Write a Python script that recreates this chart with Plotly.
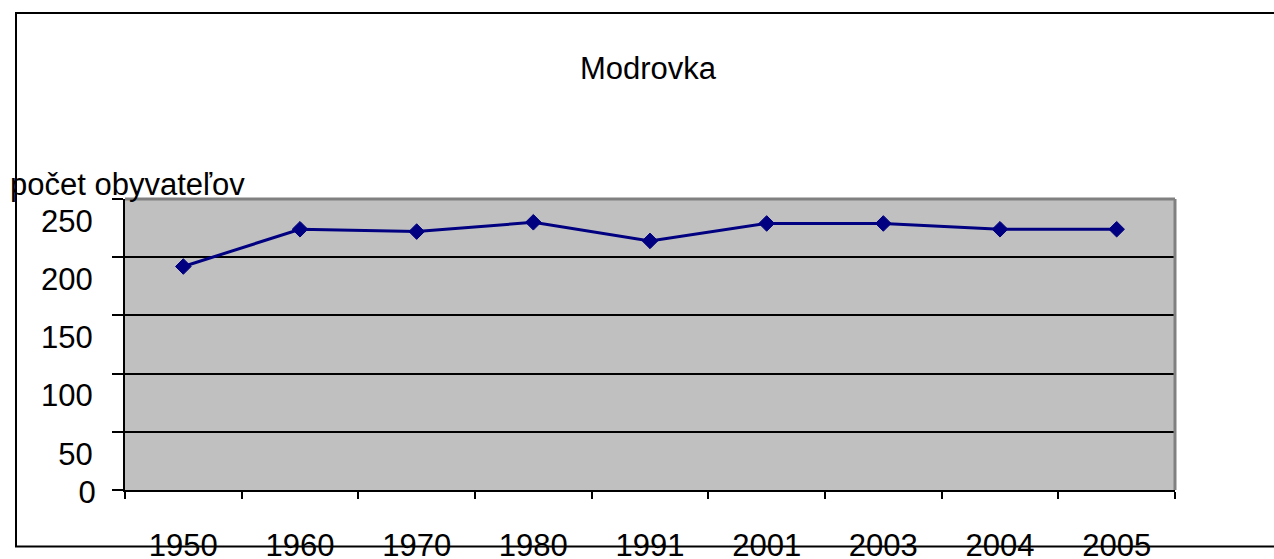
import plotly.graph_objects as go

years = ["1950", "1960", "1970", "1980", "1991", "2001", "2003", "2004", "2005"]
population = [192, 224, 222, 230, 214, 229, 229, 224, 224]
y_ticks = [0, 50, 100, 150, 200, 250]
y_ticktext = ["", "50", "100", "150", "200", "250"]

FONT = "Liberation Sans, Arial, sans-serif"
FS = 31

W, H = 1274, 559
# plot area in page pixels
L, R, T, B = 125, 1175, 199, 490

def px(x):
    return (x - L) / (R - L)

def py(y):
    return (B - y) / (B - T)

fig = go.Figure()
fig.add_trace(go.Scatter(
    x=years, y=population, mode="lines+markers",
    line=dict(color="#000080", width=3),
    marker=dict(symbol="diamond", size=12, color="#000080",
                line=dict(color="#000080", width=1)),
    showlegend=False, hoverinfo="x+y",
))
# invisible trace for secondary y axis carrying the "0" label
fig.add_trace(go.Scatter(x=[years[0]], y=[0], yaxis="y2", mode="markers",
                         marker=dict(opacity=0), showlegend=False, hoverinfo="skip"))

fig.update_layout(
    width=W, height=H,
    margin=dict(l=L, r=W - R, t=T, b=H - B, pad=0),
    paper_bgcolor="white",
    plot_bgcolor="#C0C0C0",
    font=dict(family=FONT, size=FS, color="black"),
    title=dict(text="Modrovka", x=px(648), xref="paper", xanchor="center",
               y=1 - 68 / H, yref="container", yanchor="middle",
               font=dict(family=FONT, size=FS, color="black")),
    xaxis=dict(type="category", range=[-0.5, len(years) - 0.5],
               showline=True, linecolor="black", linewidth=2,
               ticks="outside", tickson="boundaries", ticklen=7,
               tickcolor="black", tickwidth=2, showgrid=False,
               ticklabelstandoff=27,
               tickfont=dict(family=FONT, size=FS, color="black"),
               automargin=False, fixedrange=True),
    yaxis=dict(range=[0, 250], tickvals=y_ticks, ticktext=y_ticktext,
               showline=True, linecolor="black", linewidth=2,
               ticks="outside", ticklen=11, tickcolor="black", tickwidth=2,
               showgrid=True, gridcolor="black", gridwidth=2,
               zeroline=False, ticklabelshift=22, ticklabelstandoff=13,
               tickfont=dict(family=FONT, size=FS, color="black"),
               automargin=False, fixedrange=True),
    yaxis2=dict(range=[0, 250], overlaying="y", side="left",
                tickvals=[0], ticktext=["0"], showline=False, showgrid=False,
                zeroline=False, ticks="outside", ticklen=11,
                tickcolor="rgba(0,0,0,0)", ticklabelshift=2,
                ticklabelstandoff=11,
                tickfont=dict(family=FONT, size=FS, color="black"),
                automargin=False, fixedrange=True),
    annotations=[dict(text="počet obyvateľov", xref="paper", yref="paper",
                      x=px(8), y=py(184), xanchor="left", yanchor="middle",
                      showarrow=False,
                      font=dict(family=FONT, size=FS, color="black"))],
    shapes=[
        dict(type="line", xref="paper", yref="paper", x0=0, x1=1, y0=1, y1=1,
             line=dict(color="#808080", width=3), layer="above"),
        dict(type="line", xref="paper", yref="paper", x0=1, x1=1, y0=0, y1=1,
             line=dict(color="#808080", width=3), layer="above"),
        dict(type="rect", xref="paper", yref="paper",
             x0=px(16), x1=px(1300), y0=py(546.5), y1=py(13),
             line=dict(color="black", width=2), fillcolor="rgba(0,0,0,0)",
             layer="above"),
    ],
)

fig.write_html(
    "out.html",
    config={"displayModeBar": False},
    post_script="document.body.style.margin='0';document.body.style.overflow='hidden';",
)
